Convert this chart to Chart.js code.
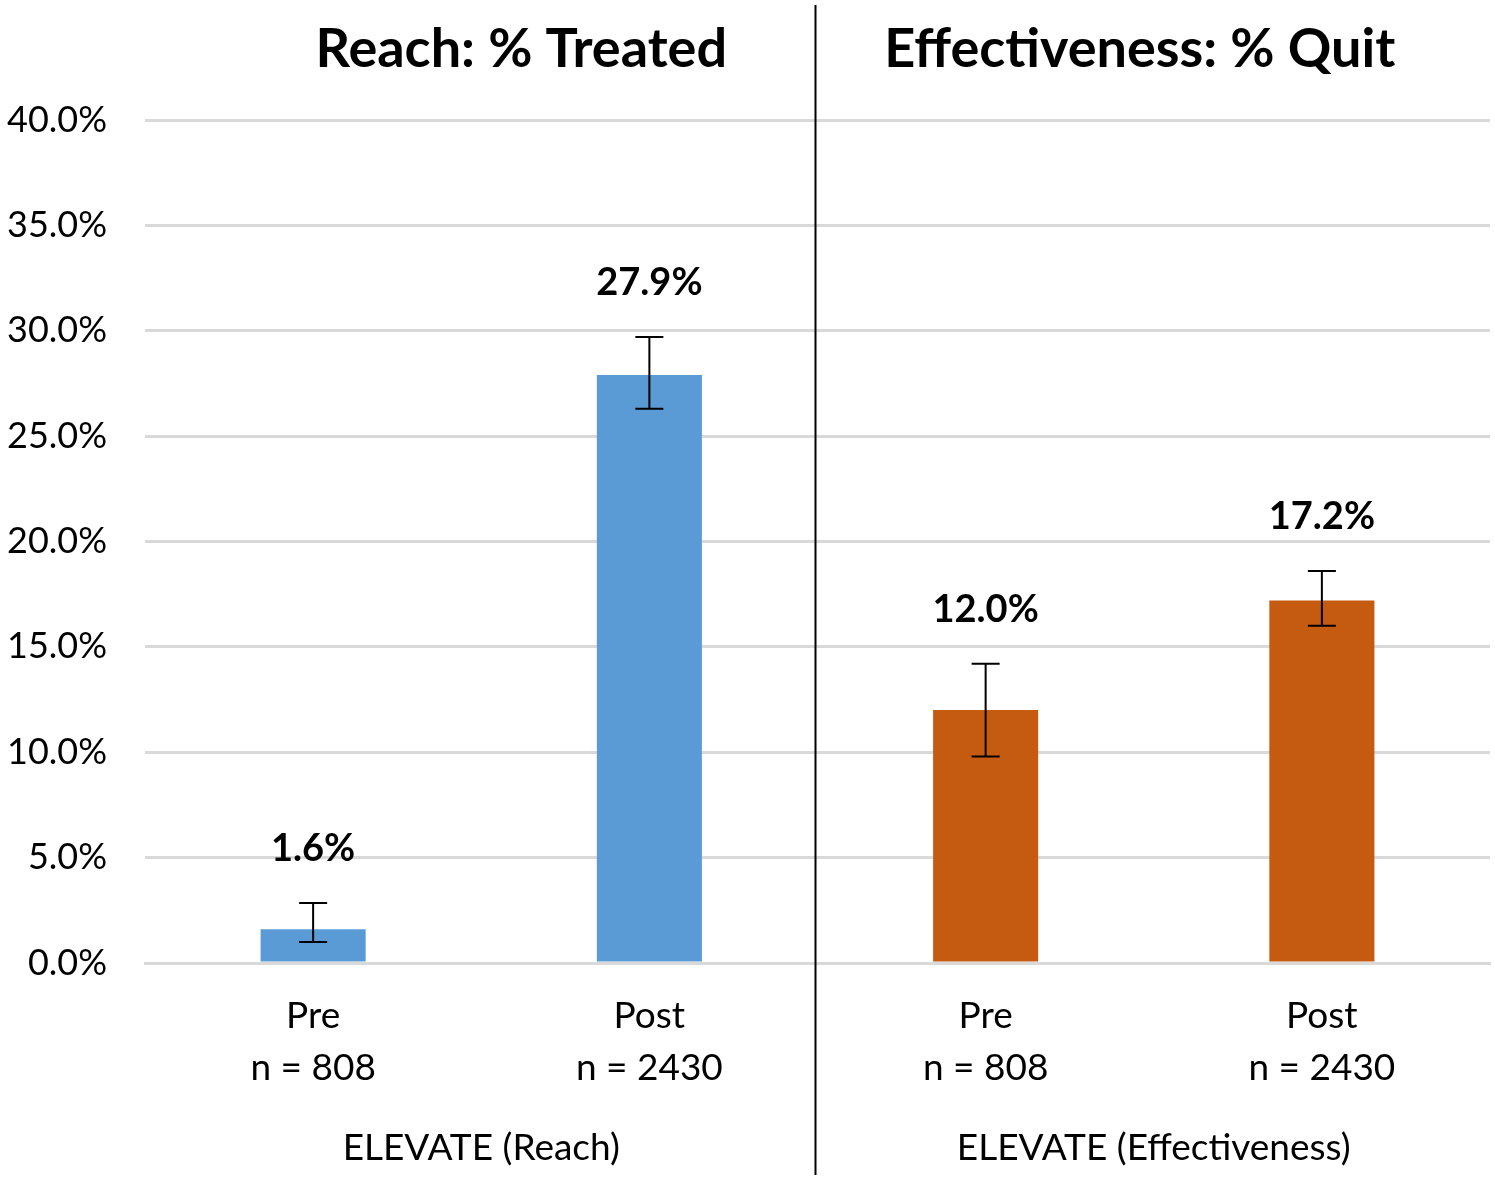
<!DOCTYPE html>
<html>
<head>
<meta charset="utf-8">
<script src="https://cdn.jsdelivr.net/npm/chart.js@4"></script>
<style>
  html, body { margin: 0; padding: 0; background: #fff; }
  #wrap { width: 1495px; height: 1181px; }
</style>
</head>
<body>
<div id="wrap"><canvas id="c" width="1495" height="1181"></canvas></div>
<script>
const categories = [["Pre", "n = 808"], ["Post", "n = 2430"], ["Pre", "n = 808"], ["Post", "n = 2430"]];
const values = [1.6, 27.9, 12.0, 17.2];
const errLow = [1.0, 26.3, 9.8, 16.0];
const errHigh = [2.85, 29.7, 14.2, 18.6];
const barColors = ["#5B9BD5", "#5B9BD5", "#C55A11", "#C55A11"];
const groupLabels = ["ELEVATE (Reach)", "ELEVATE (Effectiveness)"];
const panelTitles = ["Reach: % Treated", "Effectiveness: % Quit"];
const yTicks = [0, 5, 10, 15, 20, 25, 30, 35, 40];

const FONT = "Lato, 'Noto Sans', sans-serif";

// error bars, value labels, titles, divider and group labels
const overlay = {
  id: 'overlay',
  afterDatasetsDraw(chart) {
    const ctx = chart.ctx;
    const x = chart.scales.x, y = chart.scales.y;
    ctx.save();
    ctx.strokeStyle = '#000';
    ctx.lineWidth = 2;
    values.forEach((v, i) => {
      const cx = x.getPixelForValue(i);
      const top = y.getPixelForValue(errHigh[i]);
      const bot = y.getPixelForValue(errLow[i]);
      ctx.beginPath();
      ctx.moveTo(cx, top); ctx.lineTo(cx, bot);
      ctx.moveTo(cx - 14, top); ctx.lineTo(cx + 14, top);
      ctx.moveTo(cx - 14, bot); ctx.lineTo(cx + 14, bot);
      ctx.stroke();
      ctx.fillStyle = '#000';
      ctx.font = "bold 38px " + FONT;
      ctx.textAlign = 'center';
      ctx.textBaseline = 'middle';
      ctx.fillText(v.toFixed(1) + '%', cx, top - 54);
    });

    // divider between the two panels
    const mid = (x.getPixelForValue(1) + x.getPixelForValue(2)) / 2 - 2;
    ctx.strokeStyle = '#000';
    ctx.lineWidth = 2;
    ctx.beginPath();
    ctx.moveTo(mid, 5); ctx.lineTo(mid, 1175);
    ctx.stroke();

    // panel titles and group labels
    const titleShift = [40, -14];
    for (let g = 0; g < 2; g++) {
      const gc = (x.getPixelForValue(g * 2) + x.getPixelForValue(g * 2 + 1)) / 2;
      ctx.fillStyle = '#000';
      ctx.textAlign = 'center';
      ctx.textBaseline = 'middle';
      ctx.font = "bold 54px " + FONT;
      ctx.fillText(panelTitles[g], gc + titleShift[g], 50);
      ctx.font = "37px " + FONT;
      ctx.fillText(groupLabels[g], gc, 1148);
    }
    ctx.restore();
  }
};

new Chart(document.getElementById('c'), {
  type: 'bar',
  data: {
    labels: categories,
    datasets: [{
      data: values,
      backgroundColor: barColors,
      barPercentage: 0.3125,
      categoryPercentage: 1
    }]
  },
  options: {
    responsive: false,
    animation: false,
    devicePixelRatio: 1,
    layout: { padding: { top: 120, right: 5, left: 0, bottom: 0 } },
    plugins: { legend: { display: false }, tooltip: { enabled: false } },
    scales: {
      x: {
        grid: { display: false, drawTicks: false },
        border: { color: '#d9d9d9', width: 3 },
        ticks: { color: '#000', font: { family: FONT, size: 37, lineHeight: 1.38 }, padding: 28, maxRotation: 0 },
        afterFit(s) { s.height = 218; }
      },
      y: {
        min: 0, max: 40,
        afterBuildTicks(s) { s.ticks = yTicks.map(v => ({ value: v })); },
        grid: { color: '#d9d9d9', lineWidth: 3, drawTicks: false },
        border: { display: false },
        ticks: {
          color: '#000', padding: 38,
          font: { family: FONT, size: 36 },
          callback: v => v.toFixed(1) + '%'
        },
        afterFit(s) { s.width = 145; }
      }
    }
  },
  plugins: [overlay]
});
</script>
</body>
</html>
